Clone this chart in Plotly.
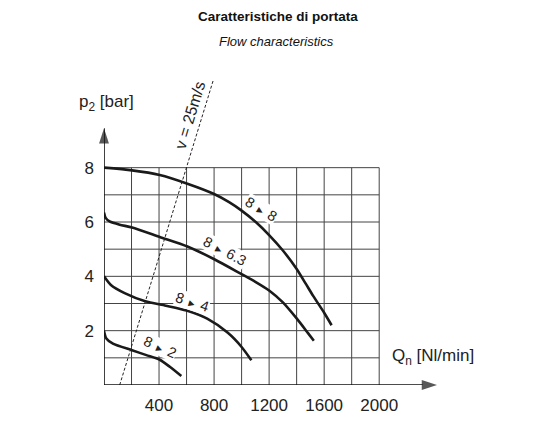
import plotly.graph_objects as go

# ---- data ----
x_ticks = [400, 800, 1200, 1600, 2000]
y_ticks = [2, 4, 6, 8]
x_grid = list(range(0, 2001, 200))
y_grid = list(range(0, 9))

q_88 = [0, 204, 405, 606, 800, 909, 1000, 1103, 1200, 1297, 1399, 1467, 1520, 1600, 1654]
p_88 = [8.0, 7.9, 7.73, 7.41, 7.03, 6.73, 6.42, 6.0, 5.52, 4.97, 4.28, 3.72, 3.28, 2.66, 2.2]

q_863 = [0, 12, 41, 114, 204, 405, 606, 805, 1000, 1100, 1200, 1300, 1400, 1484, 1525]
p_863 = [6.35, 6.15, 6.02, 5.9, 5.8, 5.45, 5.1, 4.62, 4.08, 3.8, 3.48, 3.04, 2.45, 1.9, 1.63]

q_84 = [0, 50, 150, 300, 450, 600, 750, 900, 1000, 1071]
p_84 = [4.0, 3.68, 3.38, 3.08, 2.92, 2.74, 2.44, 1.92, 1.4, 0.91]

q_82 = [0, 17, 65, 204, 308, 405, 478, 562]
p_82 = [1.99, 1.71, 1.52, 1.28, 1.10, 0.93, 0.67, 0.33]

v_line_q = [114, 793]
v_line_p = [0, 11.2]

axis_x_end = 2420
axis_y_end = 9.45

label_from = ["8", "8", "8", "8"]
label_to = ["8", "6.3", "4", "2"]
label_q = [1139, 878, 640, 405]
label_p = [6.47, 4.95, 3.04, 1.4]
label_angle = [31, 28, 18, 24]

title_main = "Caratteristiche di portata"
title_sub = "Flow characteristics"

FONT = "Liberation Sans, Arial, sans-serif"
NARROW = "Liberation Sans Narrow, Arial Narrow, Liberation Sans, sans-serif"

fig = go.Figure()

for q, p in [(q_88, p_88), (q_863, p_863), (q_84, p_84), (q_82, p_82)]:
    fig.add_trace(go.Scatter(x=q, y=p, mode="lines",
                             line=dict(color="#1a1a1a", width=2.6, shape="spline", smoothing=0.7),
                             hoverinfo="skip", showlegend=False))

fig.add_trace(go.Scatter(x=v_line_q, y=v_line_p, mode="lines",
                         line=dict(color="#222", width=1, dash="3px,2px"),
                         hoverinfo="skip", showlegend=False))

# axes with arrowheads
for ax_x, ax_y in [([0, axis_x_end], [0, 0]), ([0, 0], [0, axis_y_end])]:
    fig.add_trace(go.Scatter(x=ax_x, y=ax_y, mode="lines+markers",
                             line=dict(color="#111", width=1.6),
                             marker=dict(symbol="arrow", size=[0, 16], angleref="previous",
                                         color="#111", line=dict(width=0)),
                             cliponaxis=False, hoverinfo="skip", showlegend=False))

shapes = []
for gx in x_grid[1:]:
    shapes.append(dict(type="line", xref="x", yref="y", x0=gx, x1=gx, y0=0, y1=y_grid[-1],
                       line=dict(color="#444", width=1), layer="below"))
for gy in y_grid[1:]:
    shapes.append(dict(type="line", xref="x", yref="y", x0=0, x1=x_grid[-1], y0=gy, y1=gy,
                       line=dict(color="#444", width=1), layer="below"))

annotations = []
for f, t, q, p, a in zip(label_from, label_to, label_q, label_p, label_angle):
    txt = f + " <span style='font-size:10px'>\u25BA</span> " + t
    annotations.append(dict(x=q, y=p, xref="x", yref="y", text=txt, showarrow=False,
                            textangle=a, bgcolor="white", borderpad=0,
                            font=dict(family=FONT, size=14.5, color="#222")))

annotations.append(dict(x=623, y=9.93, xref="x", yref="y", text="v = 25m/s", showarrow=False,
                        textangle=-73, font=dict(family=FONT, size=16, color="#222")))
annotations.append(dict(x=20, y=10.37, xref="x", yref="y", text="p<sub>2</sub> [bar]",
                        showarrow=False, font=dict(family=FONT, size=17, color="#222")))
annotations.append(dict(x=2391, y=1.03, xref="x", yref="y", text="Q<sub>n</sub> [Nl/min]",
                        showarrow=False, font=dict(family=FONT, size=17, color="#222")))
annotations.append(dict(x=0.506, y=1.129, xref="paper", yref="paper", yanchor="middle",
                        text="<b>" + title_main + "</b>",
                        showarrow=False, font=dict(family=NARROW, size=13.5, color="#111")))
annotations.append(dict(x=0.5, y=1.055, xref="paper", yref="paper", yanchor="middle",
                        text="<i>" + title_sub + "</i>",
                        showarrow=False, font=dict(family=NARROW, size=13, color="#111")))

fig.update_layout(
    width=546, height=421,
    margin=dict(l=104, r=98, t=59, b=36),
    paper_bgcolor="white", plot_bgcolor="white",
    shapes=shapes, annotations=annotations,
    showlegend=False,
    xaxis=dict(range=[0, 2500], tickvals=x_ticks, ticktext=[str(v) for v in x_ticks],
               showgrid=False, zeroline=False, showline=False, ticks="", automargin=False,
               ticklabelstandoff=8,
               tickfont=dict(family=FONT, size=17, color="#222"), fixedrange=True),
    yaxis=dict(range=[0, 12], tickvals=y_ticks, ticktext=[str(v) for v in y_ticks],
               showgrid=False, zeroline=False, showline=False, ticks="", automargin=False,
               ticklabelstandoff=9,
               tickfont=dict(family=FONT, size=17, color="#222"), fixedrange=True),
)

fig.write_html("out.html", config={"displayModeBar": False},
               post_script="document.body.style.margin='0';document.body.style.overflow='hidden';")
